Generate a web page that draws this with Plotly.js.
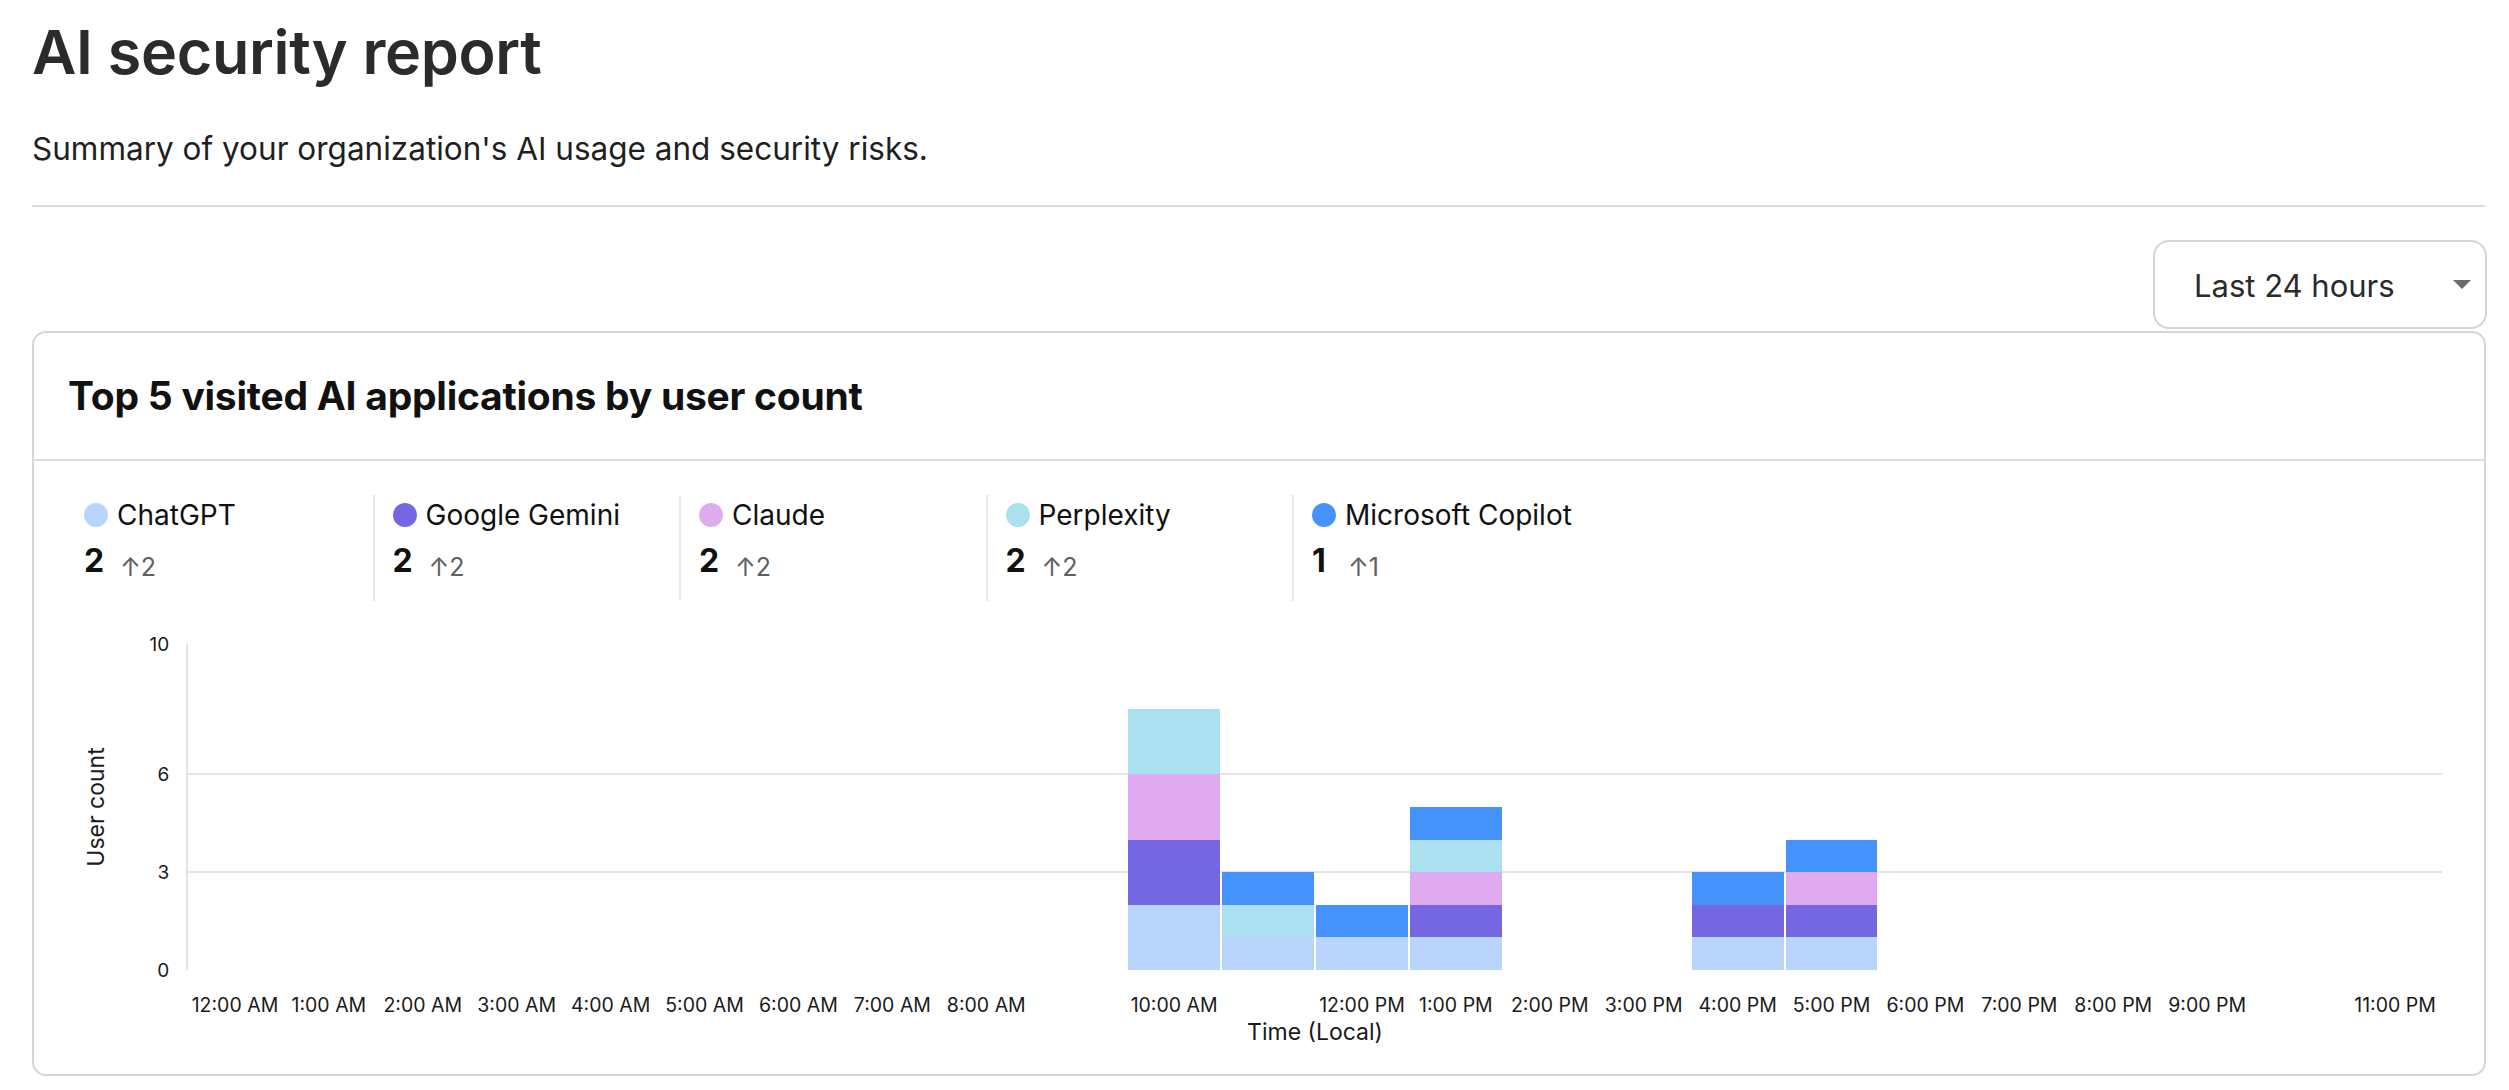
<!DOCTYPE html>
<html>
<head>
<meta charset="utf-8">
<script src="https://cdn.plot.ly/plotly-3.0.1.min.js"></script>
<style>
  html, body { margin: 0; padding: 0; background: #ffffff; }
  body { width: 2509px; height: 1090px; position: relative; overflow: hidden; font-family: Inter, "Noto Sans", Arial, sans-serif; }
  .abs { position: absolute; line-height: 1; white-space: nowrap; }
  #title { left: 32px; top: 22px; font-size: 61px; font-weight: 600; color: #2b2b2b; letter-spacing: -0.3px; }
  #subtitle { left: 32px; top: 133px; font-size: 31.5px; color: #1f1f1f; }
  #divider { left: 32px; top: 205px; width: 2453px; height: 2px; background: #dcdcdc; }
  #dropdown { left: 2153px; top: 240px; width: 330px; height: 85px; border: 2px solid #d4d4d4; border-radius: 16px; box-sizing: content-box; }
  #ddtext { left: 39px; top: 28px; font-size: 31px; color: #2b2b2b; }
  #ddarrow { left: 298px; top: 38px; width: 0; height: 0; border-left: 9px solid transparent; border-right: 9px solid transparent; border-top: 9px solid #6b6b6b; }
  #card { left: 32px; top: 331px; width: 2450px; height: 741px; border: 2px solid #d6d6d6; border-radius: 14px; box-sizing: content-box; }
  #cardtitle { left: 68px; top: 376px; font-size: 39px; font-weight: 700; color: #111111; letter-spacing: -0.25px; }
  #carddiv { left: 33px; top: 459px; width: 2451px; height: 2px; background: #dedede; }
  .item { position: absolute; top: 495px; height: 106px; width: 288px; padding-left: 18px; }
  .sep { border-left: 2px solid #e8e8e8; }
  .dot { position: absolute; left: 18px; top: 8px; width: 24px; height: 24px; border-radius: 50%; }
  .lab { position: absolute; left: 51px; top: 6px; font-size: 28px; color: #111; line-height: 1; white-space: nowrap; }
  .val { position: absolute; left: 18px; top: 50px; font-size: 32px; font-weight: 700; color: #111; line-height: 1; }
  .chg { position: absolute; left: 54px; top: 60px; font-size: 25px; color: #5f5f5f; line-height: 1; white-space: nowrap; }
  #chart { position: absolute; left: 0px; top: 620px; width: 2509px; height: 440px; }
</style>
</head>
<body>
<div id="title" class="abs">AI security report</div>
<div id="subtitle" class="abs">Summary of your organization's AI usage and security risks.</div>
<div id="divider" class="abs"></div>
<div id="dropdown" class="abs"><div id="ddtext" class="abs">Last 24 hours</div><div id="ddarrow" class="abs"></div></div>
<div id="card" class="abs"></div>
<div id="cardtitle" class="abs">Top 5 visited AI applications by user count</div>
<div id="carddiv" class="abs"></div>
<div id="legend"></div>
<div id="chart"></div>
<script>
// ---- Data ----
const hours = ["12:00 AM","1:00 AM","2:00 AM","3:00 AM","4:00 AM","5:00 AM","6:00 AM","7:00 AM","8:00 AM","9:00 AM","10:00 AM","11:00 AM",
               "12:00 PM","1:00 PM","2:00 PM","3:00 PM","4:00 PM","5:00 PM","6:00 PM","7:00 PM","8:00 PM","9:00 PM","10:00 PM","11:00 PM"];
const shownTickLabels = ["12:00 AM","1:00 AM","2:00 AM","3:00 AM","4:00 AM","5:00 AM","6:00 AM","7:00 AM","8:00 AM","10:00 AM",
                         "12:00 PM","1:00 PM","2:00 PM","3:00 PM","4:00 PM","5:00 PM","6:00 PM","7:00 PM","8:00 PM","9:00 PM","11:00 PM"];
const apps = ["ChatGPT","Google Gemini","Claude","Perplexity","Microsoft Copilot"];
const appTotals = [2, 2, 2, 2, 1];
const appChanges = [2, 2, 2, 2, 1];
//                   0 1 2 3 4 5 6 7 8 9 10 11 12 13 14 15 16 17 18 19 20 21 22 23
const chatgpt    = [0,0,0,0,0,0,0,0,0,0, 2, 1, 1, 1, 0, 0, 1, 1, 0, 0, 0, 0, 0, 0];
const gemini     = [0,0,0,0,0,0,0,0,0,0, 2, 0, 0, 1, 0, 0, 1, 1, 0, 0, 0, 0, 0, 0];
const claude     = [0,0,0,0,0,0,0,0,0,0, 2, 0, 0, 1, 0, 0, 0, 1, 0, 0, 0, 0, 0, 0];
const perplexity = [0,0,0,0,0,0,0,0,0,0, 2, 1, 0, 1, 0, 0, 0, 0, 0, 0, 0, 0, 0, 0];
const copilot    = [0,0,0,0,0,0,0,0,0,0, 0, 1, 1, 1, 0, 0, 1, 1, 0, 0, 0, 0, 0, 0];
const yTicks = [0, 3, 6, 10];

// ---- Styles ----
const colors = ["#b9d5fb", "#7567e1", "#e0aaf1", "#aae0ef", "#4692fd"];
const series = [chatgpt, gemini, claude, perplexity, copilot];

// ---- Legend summary (HTML) ----
const legend = document.getElementById('legend');
apps.forEach((name, i) => {
  const d = document.createElement('div');
  d.className = 'item' + (i > 0 ? ' sep' : '');
  d.style.left = (66 + i * 306.5) + 'px';
  d.innerHTML = '<div class="dot" style="background:' + colors[i] + '"></div>' +
                '<div class="lab">' + name + '</div>' +
                '<div class="val">' + appTotals[i] + '</div>' +
                '<div class="chg">\u2191' + appChanges[i] + '</div>';
  legend.appendChild(d);
});

// ---- Chart ----
const traces = apps.map((name, i) => ({
  type: 'bar',
  name: name,
  x: hours,
  y: series[i],
  marker: { color: colors[i], line: { width: 0 } },
  hoverinfo: 'x+y+name'
}));

const font = 'Inter, "Noto Sans", Arial, sans-serif';
const layout = {
  width: 2509, height: 440,
  margin: { l: 188, r: 67, t: 24, b: 90 },
  paper_bgcolor: 'rgba(0,0,0,0)',
  plot_bgcolor: 'rgba(0,0,0,0)',
  barmode: 'stack',
  bargap: 0.022,
  showlegend: false,
  font: { family: font, color: '#1a1a1a' },
  xaxis: {
    type: 'category',
    categoryorder: 'array',
    categoryarray: hours,
    range: [-0.5, 23.5],
    tickvals: shownTickLabels,
    ticktext: shownTickLabels,
    tickangle: 0,
    showgrid: false,
    showline: false,
    zeroline: false,
    ticks: '',
    ticklabelstandoff: 21,
    tickfont: { family: font, size: 19.5, color: '#1a1a1a' },
    title: { text: 'Time (Local)', font: { family: font, size: 23, color: '#1a1a1a' }, standoff: 8 },
    automargin: false
  },
  yaxis: {
    range: [0, 10],
    tickvals: yTicks,
    ticktext: yTicks.map(String),
    showgrid: true,
    gridcolor: '#e4e4e4',
    gridwidth: 2,
    showline: true,
    linecolor: '#e4e4e4',
    linewidth: 2,
    zeroline: false,
    ticks: '',
    ticklabelstandoff: 13,
    tickfont: { family: font, size: 19, color: '#1a1a1a' },
    title: { text: 'User count', font: { family: font, size: 23, color: '#1a1a1a' }, standoff: 38 },
    automargin: false,
    fixedrange: true
  }
};

Plotly.newPlot('chart', traces, layout, { displayModeBar: false, staticPlot: true });
</script>
</body>
</html>
